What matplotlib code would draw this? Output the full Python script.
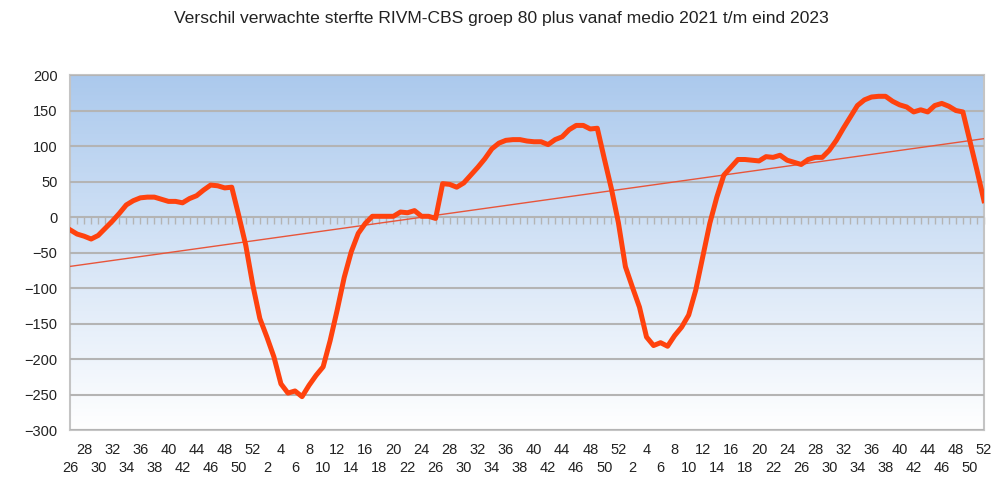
import numpy as np
import matplotlib.pyplot as plt
from matplotlib.colors import LinearSegmentedColormap

plt.rcParams['font.family'] = ['Liberation Sans', 'DejaVu Sans']

# weeks: 2021 wk26..52, 2022 wk1..52, 2023 wk1..52
weeks = list(range(26, 53)) + list(range(1, 53)) + list(range(1, 53))

verschil = [
    -18, -24, -27, -31, -26, -16, -6, 5, 17, 23, 27, 28, 28, 25, 22, 22, 20, 26, 30, 38, 45,
    44, 41, 42, 2, -40, -96, -143, -169, -197, -235, -248, -245, -253, -237, -223, -211,
    -174, -131, -85, -49, -23, -9,
    1, 1, 1, 1, 7, 6, 9, 1, 1, -2, 47, 46, 42, 48, 59, 70, 82, 96, 104, 108, 109, 109,
    107, 106, 106, 102, 109, 113, 123, 129, 129, 124, 125, 82, 40, -8, -70, -99, -127,
    -169, -181, -177, -182, -167,
    -155, -138, -103, -56, -9, 28, 59, 70, 81, 81, 80, 79, 85, 84, 87, 80, 77, 74, 81,
    84, 84, 94,
    108, 125, 141, 157, 165, 169, 170, 170, 163, 158, 155, 148, 151, 148, 157, 160, 156,
    150, 148, 107, 66, 23,
]

x = np.arange(len(verschil))
y = np.array(verschil)

fig = plt.figure(figsize=(10.02, 4.83), dpi=100)
ax = fig.add_axes([0.0699, 0.1097, 0.9121, 0.735])

# background gradient
cmap = LinearSegmentedColormap.from_list('bg', ['#ffffff', '#abc9ed'])
grad = np.linspace(0, 1, 256).reshape(-1, 1)
ax.imshow(grad, extent=[0, len(x) - 1, -300, 200], origin='lower', cmap=cmap,
          aspect='auto', zorder=0)

ax.set_xlim(0, len(x) - 1)
ax.set_ylim(-300, 200)
ax.set_yticks(range(-300, 201, 50))
ax.yaxis.grid(True, color='#b4b4b4', linewidth=1.5, zorder=1)
ax.set_axisbelow(False)

# trend line
coef = np.polyfit(x, y, 1)
ax.plot(x, np.polyval(coef, x), color='#e8553a', linewidth=1.0, zorder=3)

ax.plot(x, y, color='#ff420e', linewidth=3.6, solid_joinstyle='round', zorder=4)

# category axis crossing at 0 with weekly tick marks (pointing down)
sec = ax.secondary_xaxis(0.6)
sec.set_xticks(x)
sec.tick_params(axis='x', direction='in', length=5, width=1, color='#b4b4b4',
                labelbottom=False, labeltop=False)
for s in sec.spines.values():
    s.set_visible(False)

# two rows of week labels
top_pos = [i for i in range(0, len(x), 2) if i % 4 == 2]
bot_pos = [i for i in range(0, len(x), 2) if i % 4 == 0]
ax.set_xticks(top_pos)
ax.set_xticklabels([str(weeks[i]) for i in top_pos], fontsize=10.5, color='#222222')
ax.set_xticks(bot_pos, minor=True)
ax.set_xticklabels([str(weeks[i]) for i in bot_pos], minor=True, fontsize=10.5,
                   color='#222222')
ax.tick_params(axis='x', which='major', length=0, pad=9)
ax.tick_params(axis='x', which='minor', length=0, pad=22)
ax.tick_params(axis='y', length=0, pad=9, labelsize=10.5, labelcolor='#222222')

for s in ax.spines.values():
    s.set_color('#c4c4c4')
    s.set_linewidth(1.5)

fig.text(0.5, 0.962, 'Verschil verwachte sterfte RIVM-CBS groep 80 plus vanaf medio 2021 t/m eind 2023',
         ha='center', va='center', fontsize=12.6, color='#222222')

fig.savefig('out.png', dpi=100)
